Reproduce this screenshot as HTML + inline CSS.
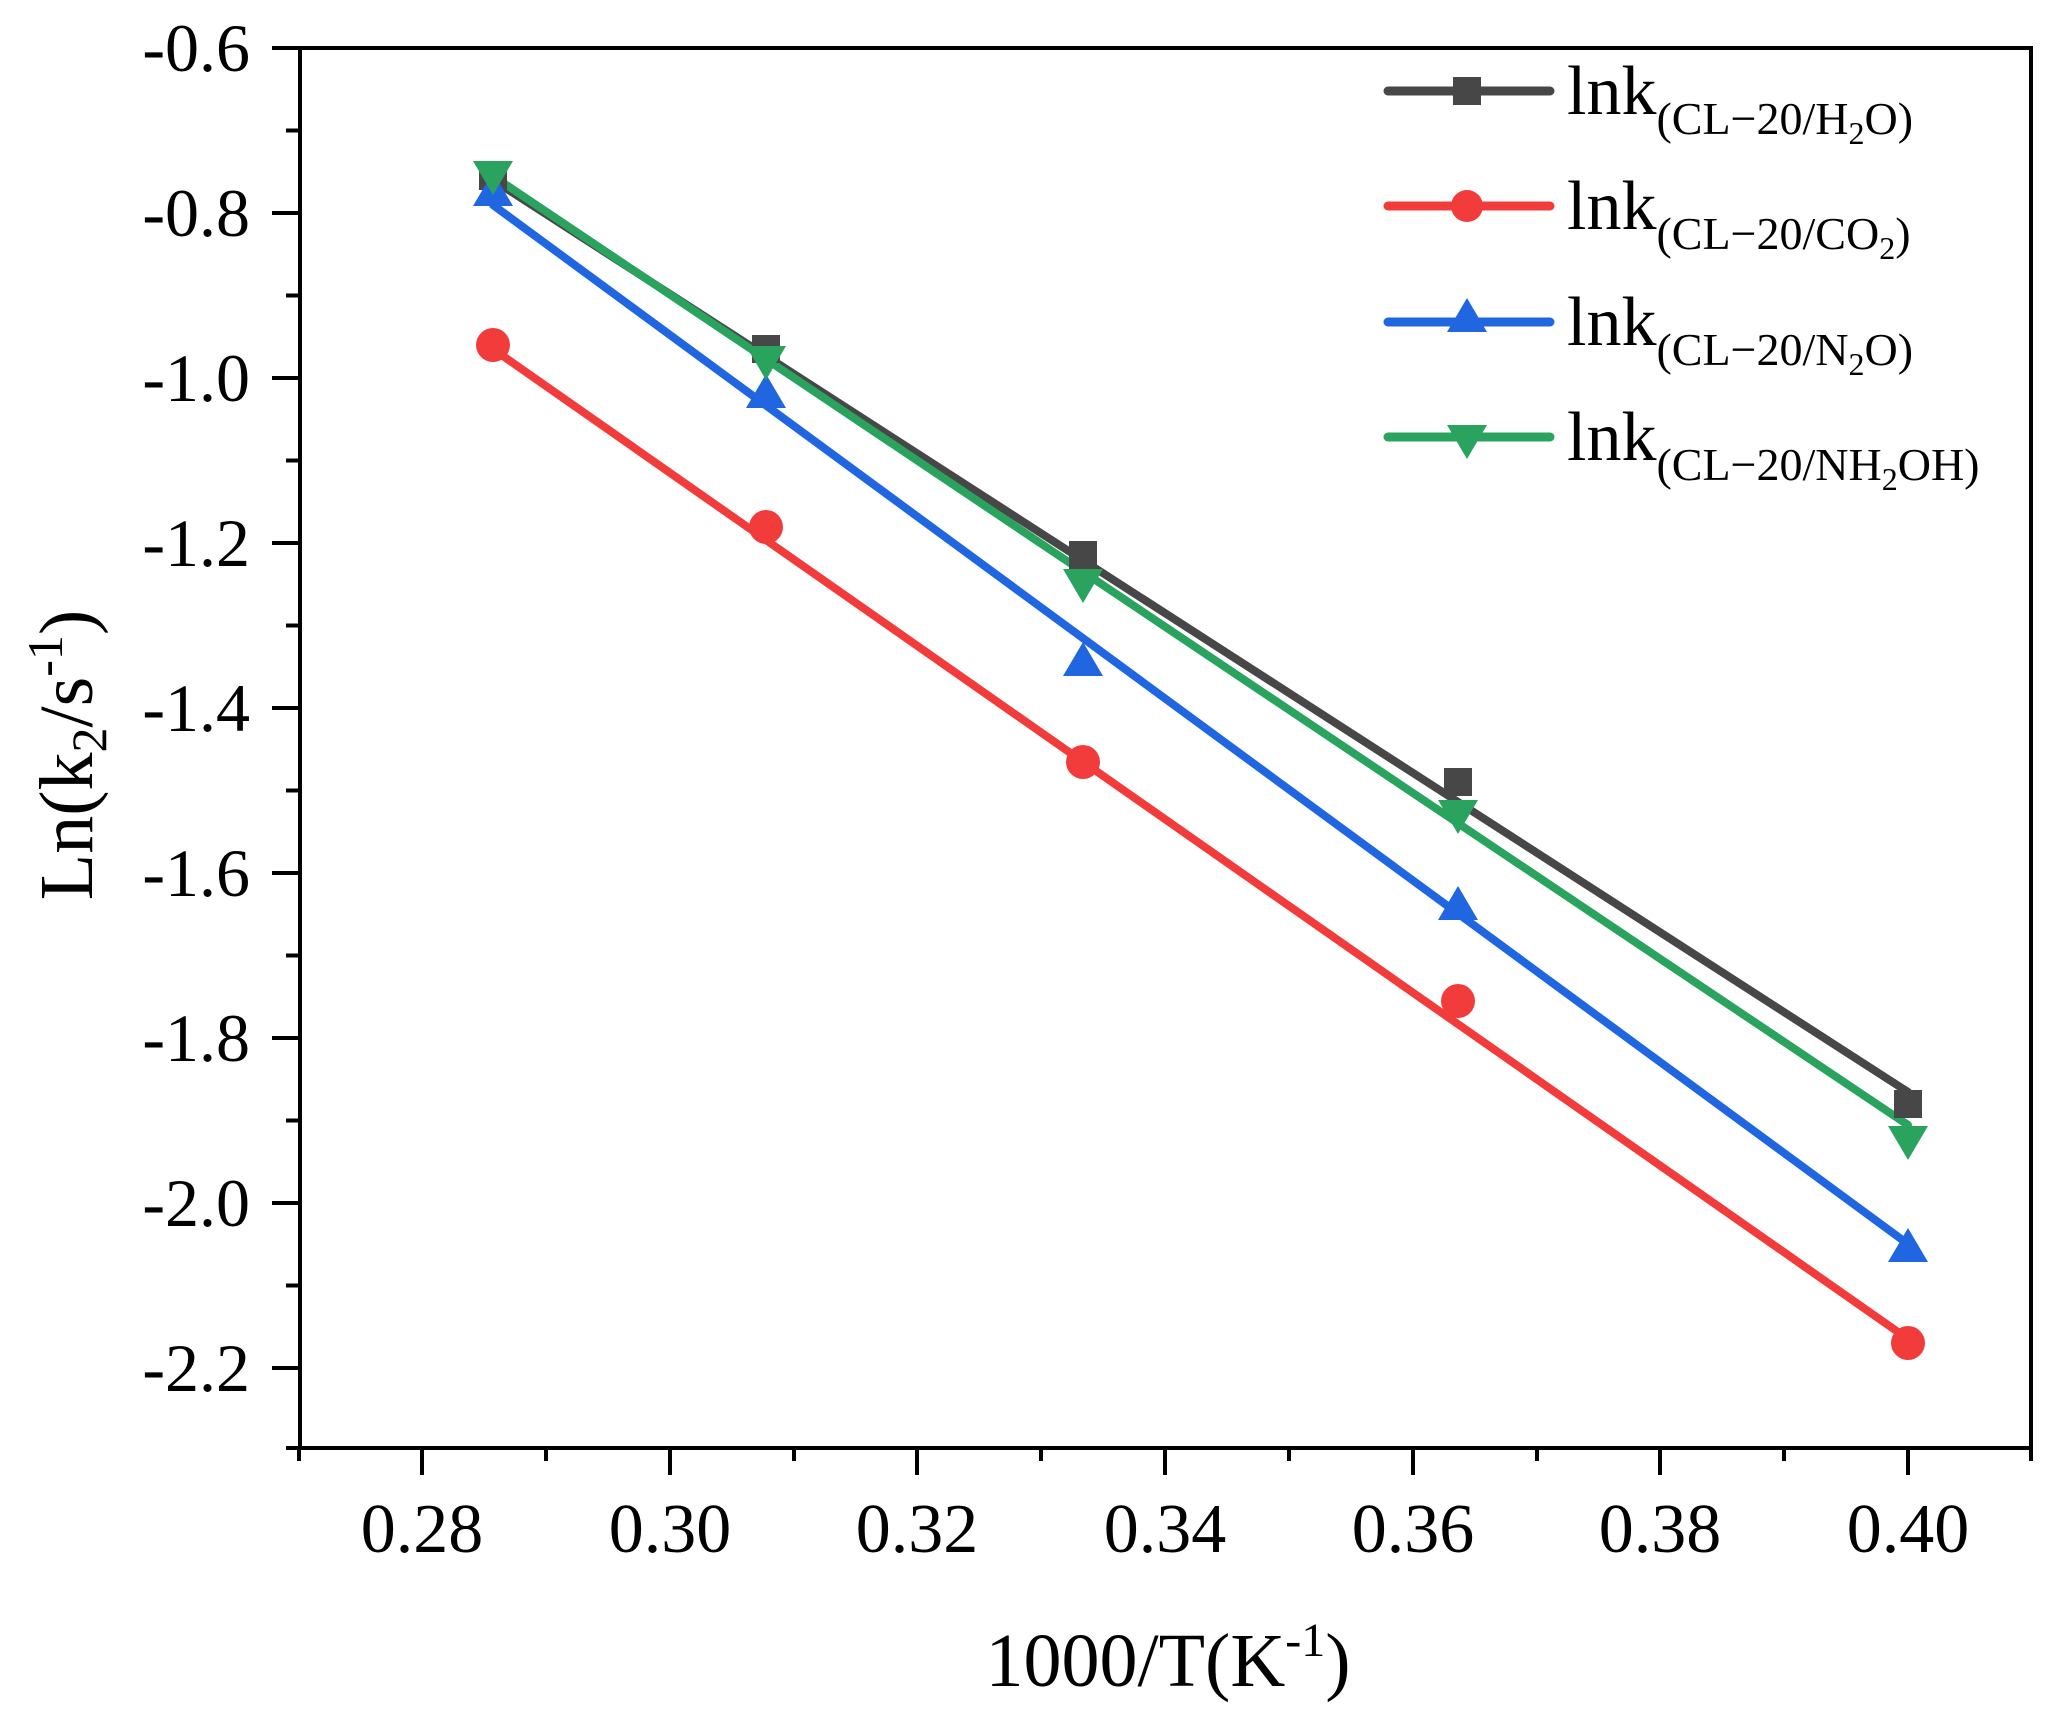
<!DOCTYPE html>
<html><head><meta charset="utf-8"><style>
html,body{margin:0;padding:0;background:#fff;}
svg{display:block;}
text{font-family:"Liberation Serif",serif;fill:#000;}
</style></head><body>
<svg width="2059" height="1717" viewBox="0 0 2059 1717" xmlns="http://www.w3.org/2000/svg">
<rect width="2059" height="1717" fill="#fff"/>
<rect x="300" y="48" width="1731" height="1400" fill="none" stroke="#000" stroke-width="4"/>
<g stroke="#000" stroke-width="4">
<line x1="272" y1="48" x2="300" y2="48"/>
<line x1="286" y1="130.5" x2="300" y2="130.5"/>
<line x1="272" y1="213" x2="300" y2="213"/>
<line x1="286" y1="295.5" x2="300" y2="295.5"/>
<line x1="272" y1="378" x2="300" y2="378"/>
<line x1="286" y1="460.5" x2="300" y2="460.5"/>
<line x1="272" y1="543" x2="300" y2="543"/>
<line x1="286" y1="625.5" x2="300" y2="625.5"/>
<line x1="272" y1="708" x2="300" y2="708"/>
<line x1="286" y1="790.5" x2="300" y2="790.5"/>
<line x1="272" y1="873" x2="300" y2="873"/>
<line x1="286" y1="955.5" x2="300" y2="955.5"/>
<line x1="272" y1="1038" x2="300" y2="1038"/>
<line x1="286" y1="1120.5" x2="300" y2="1120.5"/>
<line x1="272" y1="1203" x2="300" y2="1203"/>
<line x1="286" y1="1285.5" x2="300" y2="1285.5"/>
<line x1="272" y1="1368" x2="300" y2="1368"/>
<line x1="286" y1="1448" x2="300" y2="1448"/>
<line x1="299" y1="1448" x2="299" y2="1461"/>
<line x1="422" y1="1448" x2="422" y2="1475"/>
<line x1="546" y1="1448" x2="546" y2="1461"/>
<line x1="670" y1="1448" x2="670" y2="1475"/>
<line x1="794" y1="1448" x2="794" y2="1461"/>
<line x1="917" y1="1448" x2="917" y2="1475"/>
<line x1="1041" y1="1448" x2="1041" y2="1461"/>
<line x1="1165" y1="1448" x2="1165" y2="1475"/>
<line x1="1289" y1="1448" x2="1289" y2="1461"/>
<line x1="1413" y1="1448" x2="1413" y2="1475"/>
<line x1="1537" y1="1448" x2="1537" y2="1461"/>
<line x1="1660" y1="1448" x2="1660" y2="1475"/>
<line x1="1784" y1="1448" x2="1784" y2="1461"/>
<line x1="1908" y1="1448" x2="1908" y2="1475"/>
<line x1="2031" y1="1448" x2="2031" y2="1461"/>
</g>
<g font-size="68" text-anchor="end">
<text x="250" y="71">-0.6</text>
<text x="250" y="236">-0.8</text>
<text x="250" y="401">-1.0</text>
<text x="250" y="566">-1.2</text>
<text x="250" y="731">-1.4</text>
<text x="250" y="896">-1.6</text>
<text x="250" y="1061">-1.8</text>
<text x="250" y="1226">-2.0</text>
<text x="250" y="1391">-2.2</text>
</g>
<g font-size="70" text-anchor="middle">
<text x="422" y="1552">0.28</text>
<text x="670" y="1552">0.30</text>
<text x="917" y="1552">0.32</text>
<text x="1165" y="1552">0.34</text>
<text x="1413" y="1552">0.36</text>
<text x="1660" y="1552">0.38</text>
<text x="1908" y="1552">0.40</text>
</g>
<text x="1168" y="1686" font-size="76" text-anchor="middle">1000/T(K<tspan font-size="48" dy="-30">-1</tspan><tspan dy="30">)</tspan></text>
<text transform="translate(92,755) rotate(-90)" font-size="76" text-anchor="middle">Ln(k<tspan font-size="50" dy="14">2</tspan><tspan dy="-14">/s</tspan><tspan font-size="50" dy="-30">-1</tspan><tspan dy="30">)</tspan></text>

<g stroke-width="8" fill="none" stroke-linecap="round">
<line x1="493" y1="180" x2="1908" y2="1092" stroke="#474747"/>
<line x1="493" y1="349" x2="1908" y2="1339" stroke="#f23c3c"/>
<line x1="493" y1="205" x2="1908" y2="1244" stroke="#1f66e0"/>
<line x1="493" y1="176" x2="1908" y2="1125" stroke="#2aa35f"/>
</g>
<g fill="#474747">
<rect x="479" y="162" width="28" height="28"/>
<rect x="752" y="335" width="28" height="28"/>
<rect x="1069" y="541" width="28" height="28"/>
<rect x="1444" y="768" width="28" height="28"/>
<rect x="1894" y="1090" width="28" height="28"/>
</g>
<g fill="#f23c3c">
<circle cx="493" cy="345" r="17"/>
<circle cx="766" cy="527" r="17"/>
<circle cx="1083" cy="762" r="17"/>
<circle cx="1458" cy="1001" r="17"/>
<circle cx="1908" cy="1343" r="17"/>
</g>
<g fill="#1f66e0">
<polygon points="493,172 473,206 513,206"/>
<polygon points="766,374 746,408 786,408"/>
<polygon points="1083,642 1063,676 1103,676"/>
<polygon points="1458,886 1438,920 1478,920"/>
<polygon points="1908,1228 1888,1262 1928,1262"/>
</g>
<g fill="#2aa35f">
<polygon points="473,161 513,161 493,195"/>
<polygon points="746,346 786,346 766,380"/>
<polygon points="1063,569 1103,569 1083,603"/>
<polygon points="1438,800 1478,800 1458,834"/>
<polygon points="1888,1126 1928,1126 1908,1160"/>
</g>

<g stroke-width="9" stroke-linecap="round">
<line x1="1388" y1="91" x2="1550" y2="91" stroke="#474747"/>
<line x1="1388" y1="206" x2="1550" y2="206" stroke="#f23c3c"/>
<line x1="1388" y1="322" x2="1550" y2="322" stroke="#1f66e0"/>
<line x1="1388" y1="437" x2="1550" y2="437" stroke="#2aa35f"/>
</g>
<rect x="1453" y="77" width="28" height="28" fill="#474747"/>
<circle cx="1467" cy="206" r="16" fill="#f23c3c"/>
<polygon points="1467,298 1447,332 1487,332" fill="#1f66e0"/>
<polygon points="1447,425 1487,425 1467,459" fill="#2aa35f"/>
<g font-size="70">
<text x="1567" y="114">lnk<tspan font-size="46" dy="20">(CL−20/H</tspan><tspan font-size="32" dy="10">2</tspan><tspan font-size="46" dy="-10">O)</tspan></text>
<text x="1567" y="229">lnk<tspan font-size="46" dy="20">(CL−20/CO</tspan><tspan font-size="32" dy="10">2</tspan><tspan font-size="46" dy="-10">)</tspan></text>
<text x="1567" y="345">lnk<tspan font-size="46" dy="20">(CL−20/N</tspan><tspan font-size="32" dy="10">2</tspan><tspan font-size="46" dy="-10">O)</tspan></text>
<text x="1567" y="460">lnk<tspan font-size="46" dy="20">(CL−20/NH</tspan><tspan font-size="32" dy="10">2</tspan><tspan font-size="46" dy="-10">OH)</tspan></text>
</g>
</svg>
</body></html>
